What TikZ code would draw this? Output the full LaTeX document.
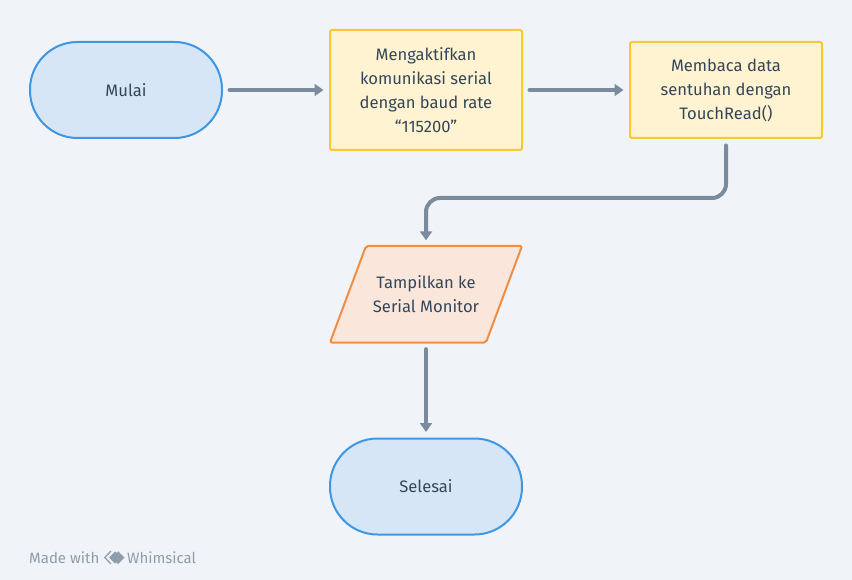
\documentclass[tikz,border=0pt]{standalone}
\usepackage{fontspec}
\setmainfont{Fira Sans}
\usetikzlibrary{arrows.meta,shapes.geometric}
\definecolor{bgc}{HTML}{F0F4F8}
\definecolor{bluef}{HTML}{D6E6F7}
\definecolor{blued}{HTML}{3F97E3}
\definecolor{yelf}{HTML}{FFF3D1}
\definecolor{yeld}{HTML}{F9C933}
\definecolor{oraf}{HTML}{FAE6DA}
\definecolor{orad}{HTML}{EF8E42}
\definecolor{linec}{HTML}{7B8B9C}
\definecolor{txt}{HTML}{34475A}
\definecolor{markc}{HTML}{8F9CA9}
\tikzset{x=1pt,y=-1pt,
 lbl/.style={font=\fontsize{16.6}{24}\selectfont,text=txt,align=center,inner sep=0pt},
 term/.style={lbl,draw=blued,fill=bluef,line width=2pt,rounded corners=47.5pt,minimum width=192pt,minimum height=96pt},
 proc/.style={lbl,draw=yeld,fill=yelf,line width=2pt,rounded corners=2pt,minimum width=192pt},
 para/.style={draw=orad,fill=oraf,line width=2pt,rounded corners=2pt},
 conn/.style={draw=linec,line width=4pt,line cap=round,shorten <=6.5pt,shorten >=5.5pt,-{Triangle[length=9pt,width=12pt]}},
 brand/.style={anchor=west,inner sep=0pt,text=markc,font=\fontsize{15}{16}\selectfont}}
\begin{document}
\begin{tikzpicture}
\useasboundingbox (0,0) rectangle (852,580);
\fill[bgc] (0,0) rectangle (852,580);
\node[term] (mulai) at (126,90) {Mulai};
\node[proc,minimum height=120pt] (aktif) at (426,90) {Mengaktifkan\\komunikasi serial\\dengan baud rate\\“115200”};
\node[proc,minimum height=96pt] (baca) at (726,90) {Membaca data\\sentuhan dengan\\TouchRead()};
\draw[para] (366,246) -- (522,246) -- (486,342.5) -- (330,342.5) -- cycle;
\node[lbl,minimum width=192pt,minimum height=96.5pt] (tampil) at (426,294.25) {Tampilkan ke\\Serial Monitor};
\node[term] (selesai) at (426,486.5) {Selesai};
\draw[conn] (mulai) -- (aktif);
\draw[conn] (aktif) -- (baca);
\draw[conn,rounded corners=14pt] (baca.south) -- (726,198) -- (426,198) -- (tampil.north);
\draw[conn] (tampil) -- (selesai);
\node[brand] (made) at (29,557.5) {Made with};
\draw[markc,line width=1.3pt] (111,551) -- (104.8,557.5) -- (111,564);
\fill[markc] (109,557.5) -- (115,551.5) -- (117.5,553) -- (118,551) -- (124.5,557.5) -- (118,564) -- (116,562) -- (115,563.5) -- cycle;
\node[brand] (whim) at (127,557.5) {Whimsical};
\end{tikzpicture}
\end{document}
